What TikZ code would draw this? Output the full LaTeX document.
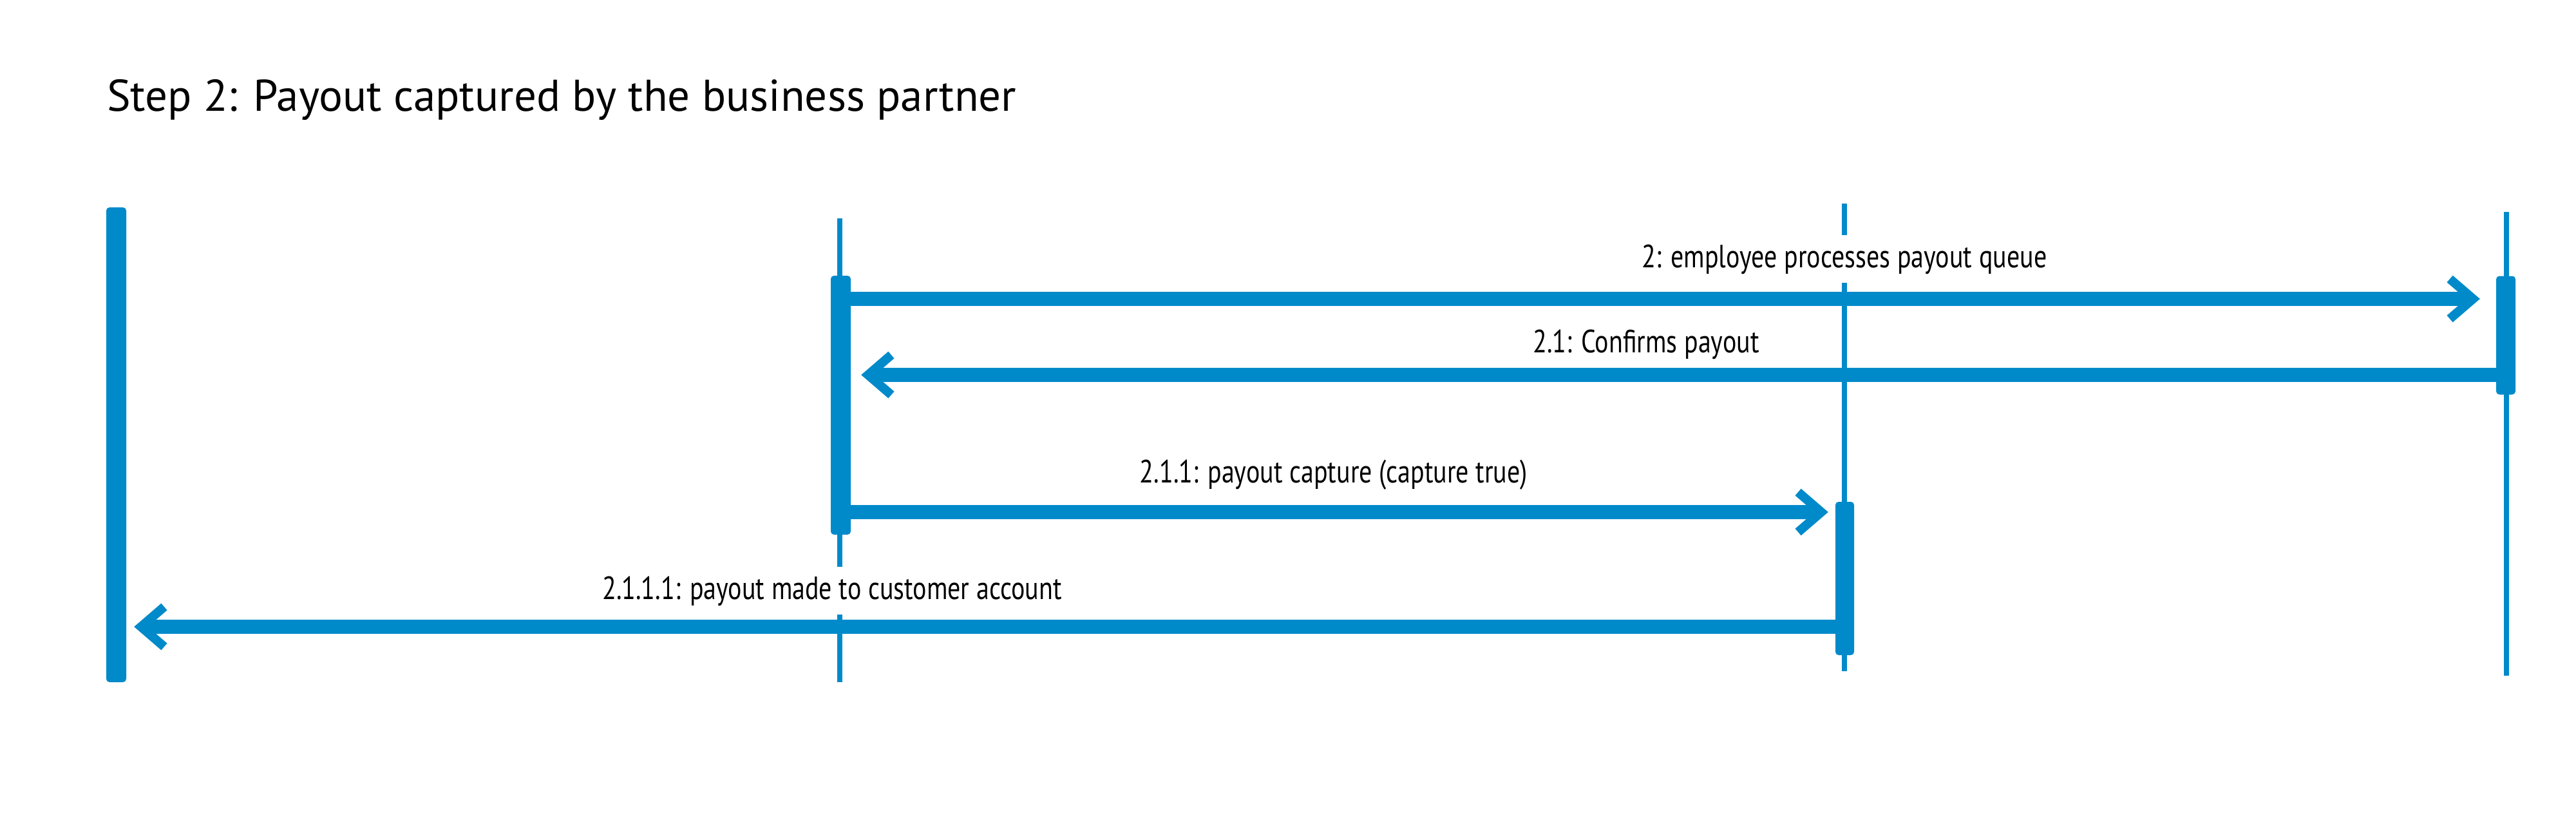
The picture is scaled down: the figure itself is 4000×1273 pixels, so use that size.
\documentclass[tikz,border=0pt]{standalone}
\usepackage{fontspec}
\setmainfont{PT Sans}
\newfontfamily\lblfont[FakeStretch=0.80]{PT Sans}
\newfontfamily\ttlfont[FakeStretch=1.0]{PT Sans}
\usetikzlibrary{arrows.meta}
\definecolor{seqblue}{RGB}{0,138,202}
\begin{document}
\begin{tikzpicture}[x=1pt,y=-1pt,>={Straight Barb[length=36pt,width=62pt,line width=14pt]}]
	\tikzset{life/.style={seqblue,line width=8pt},
		act/.style={fill=seqblue,rounded corners=5pt,inner sep=0pt,minimum width=30pt},
		msg/.style={seqblue,line width=22pt,->},
		lbl/.style={fill=white,inner sep=0pt,anchor=base,font=\lblfont\fontsize{50}{60}\selectfont,text height=50pt,text depth=24pt}}
	\fill[white] (0,0) rectangle (4000,1273);
	\useasboundingbox (0,0) rectangle (4000,1273);
	\node[anchor=base west,inner sep=0pt,font=\ttlfont\fontsize{69}{80}\selectfont] (title) at (166,173) {Step 2: Payout captured by the business partner};
	% lifelines
	\draw[life] (1304,339) coordinate (top2) -- (1304,1059) coordinate (bot2);
	\draw[life] (2864,316) coordinate (top3) -- (2864,1042) coordinate (bot3);
	\draw[life] (3892,329) coordinate (top4) -- (3892,1049) coordinate (bot4);
	% activations
	\node[act,minimum width=31pt,minimum height=737pt] (act1) at (180.5,690.5) {};
	\node[act,minimum width=31pt,minimum height=402pt] (act2) at (1305.5,629) {};
	\node[act,minimum width=29pt,minimum height=238pt] (act3) at (2864.5,898) {};
	\node[act,minimum height=184pt] (act4) at (3891,520.5) {};
	% labels
	\node[lbl] (m1) at (2864,415) {2: employee processes payout queue};
	\node[lbl] (m2) at (2556,547) {2.1: Confirms payout};
	\node[lbl] (m3) at (2071,749) {2.1.1: payout capture (capture true)};
	\node[lbl] (m4) at (1292,930) {2.1.1.1: payout made to customer account};
	% messages
	\draw[msg,shorten >=25pt] (act2.east |- 0,464) -- (act4.west |- 0,464);
	\draw[msg,shorten >=16pt] (act4.west |- 0,582) -- (act2.east |- 0,582);
	\draw[msg,shorten >=11pt] (act2.east |- 0,795) -- (act3.west |- 0,795);
	\draw[msg,shorten >=12pt] (act3.west |- 0,973) -- (act1.east |- 0,973);
\end{tikzpicture}
\end{document}
